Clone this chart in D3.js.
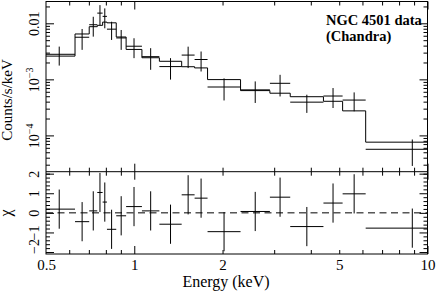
<!DOCTYPE html>
<html>
<head>
<meta charset="utf-8">
<script src="https://cdn.jsdelivr.net/npm/d3@7"></script>
<style>
  body { margin: 0; background: #fff; }
  svg { display: block; font-family: 'Liberation Serif', 'Times New Roman', serif; }
</style>
</head>
<body>
<div id="chart"></div>
<script>
// spectrum bins, keV (first and last are clipped by the plot window)
var binEdges = [0.49, 0.628, 0.702, 0.748, 0.780, 0.807, 0.868, 0.938, 1.062, 1.218,
                1.451, 1.606, 1.778, 2.304, 2.901, 3.403, 4.417, 5.135, 6.154, 12.8]
// data, counts/s/keV
var counts    = [2.80e-3, 5.64e-3, 9.43e-3, 1.52e-2, 1.33e-2, 7.86e-3, 5.48e-3, 3.90e-3, 2.54e-3, 1.69e-3,
                 2.71e-3, 2.26e-3, 7.30e-4, 6.49e-4, 8.50e-4, 3.92e-4, 5.04e-4, 4.27e-4, 5.65e-5]
var countsErr = [1.04e-3, 2.28e-3, 3.65e-3, 5.90e-3, 5.15e-3, 2.81e-3, 2.12e-3, 1.51e-3, 1.06e-3, 7.00e-4,
                 1.12e-3, 8.80e-4, 3.10e-4, 2.70e-4, 3.55e-4, 1.40e-4, 1.96e-4, 1.58e-4, 2.80e-5]
// folded model
var model     = [2.60e-3, 6.45e-3, 8.70e-3, 9.20e-3, 1.05e-2, 1.02e-2, 5.70e-3, 3.42e-3, 2.43e-3, 2.10e-3,
                 1.68e-3, 1.60e-3, 9.90e-4, 6.30e-4, 5.66e-4, 4.90e-4, 4.06e-4, 2.74e-4, 7.57e-5]
// residuals, sigma
var chi       = [0.19, -0.45, 0.10, 1.04, 0.55, -0.84, -0.15, 0.32, 0.10, -0.58,
                 0.92, 0.75, -0.96, 0.07, 0.80, -0.70, 0.50, 0.97, -0.78]

var xLabels = [0.5, 1, 2, 5, 10]
var xMajor = [1, 10]
var xMinor = [0.6, 0.7, 0.8, 0.9, 2, 3, 4, 5, 6, 7, 8, 9]
var yLabels = [1e-4, 1e-3, 1e-2]
var yMinor = [3e-5, 4e-5, 5e-5, 6e-5, 7e-5, 8e-5, 9e-5,
              2e-4, 3e-4, 4e-4, 5e-4, 6e-4, 7e-4, 8e-4, 9e-4,
              2e-3, 3e-3, 4e-3, 5e-3, 6e-3, 7e-3, 8e-3, 9e-3, 2e-2]
var chiMajor = [-2, -1, 0, 1, 2]
var chiMinor = [-1.8, -1.6, -1.4, -1.2, -0.8, -0.6, -0.4, -0.2, 0.2, 0.4, 0.6, 0.8,
                1.2, 1.4, 1.6, 1.8, 2.0]
var title = ['NGC 4501 data', '(Chandra)']

var width = 436, height = 291
var padL = 46, padR = 427.5, yTop = 1.5, yMid = 171.7, yBot = 254

var x = d3.scaleLog().domain([0.5, 10]).range([padL, padR])
var y = d3.scaleLog().domain([2.25e-5, 0.0245]).range([yMid, yTop])
var yr = d3.scaleLinear().domain([-2.1, 2.1]).range([yBot, yMid])

var bins = counts.map(function(c, i) {
  return {lo: binEdges[i], hi: binEdges[i + 1], c: c, e: countsErr[i], m: model[i], r: chi[i]}
})

var svg = d3.select('#chart').append('svg')
            .attr('width', width)
            .attr('height', height)

var defs = svg.append('defs')
defs.append('clipPath').attr('id', 'clipTop')
    .append('rect').attr('x', padL).attr('y', yTop).attr('width', padR - padL).attr('height', yMid - yTop)
defs.append('clipPath').attr('id', 'clipRes')
    .append('rect').attr('x', padL).attr('y', yMid).attr('width', padR - padL).attr('height', yBot - yMid)

function centre(d) { return x(Math.sqrt(d.lo * d.hi)) }

// ---- top panel
var gTop = svg.append('g').attr('clip-path', 'url(#clipTop)')
         .attr('stroke', '#000').attr('fill', 'none').attr('stroke-width', 1)

var stepPts = bins.map(function(d) { return [d.lo, d.m] })
stepPts.push([bins[bins.length - 1].hi, bins[bins.length - 1].m])
var step = d3.line()
             .x(function(d) { return x(d[0]) })
             .y(function(d) { return y(d[1]) })
             .curve(d3.curveStepAfter)
gTop.append('path').attr('d', step(stepPts))

gTop.selectAll('line.h').data(bins).enter().append('line')
    .attr('x1', function(d) { return x(d.lo) })
    .attr('x2', function(d) { return x(d.hi) })
    .attr('y1', function(d) { return y(d.c) })
    .attr('y2', function(d) { return y(d.c) })
gTop.selectAll('line.v').data(bins).enter().append('line')
    .attr('x1', centre).attr('x2', centre)
    .attr('y1', function(d) { return y(d.c + d.e) })
    .attr('y2', function(d) { return y(d.c - d.e) })

// ---- residual panel
var gRes = svg.append('g').attr('clip-path', 'url(#clipRes)')
         .attr('stroke', '#000').attr('fill', 'none').attr('stroke-width', 1)

gRes.append('line')
    .attr('x1', padL).attr('x2', padR)
    .attr('y1', yr(0)).attr('y2', yr(0))
    .attr('stroke-dasharray', '7,4.5')

gRes.selectAll('line.h').data(bins).enter().append('line')
    .attr('x1', function(d) { return x(d.lo) })
    .attr('x2', function(d) { return x(d.hi) })
    .attr('y1', function(d) { return yr(d.r) })
    .attr('y2', function(d) { return yr(d.r) })
gRes.selectAll('line.v').data(bins).enter().append('line')
    .attr('x1', centre).attr('x2', centre)
    .attr('y1', function(d) { return yr(d.r + 1) })
    .attr('y2', function(d) { return yr(d.r - 1) })

// ---- frame
svg.append('rect')
   .attr('x', padL).attr('y', yTop)
   .attr('width', padR - padL).attr('height', yBot - yTop)
   .attr('fill', 'none').attr('stroke', '#000')
svg.append('line')
   .attr('x1', padL).attr('x2', padR).attr('y1', yMid).attr('y2', yMid)
   .attr('stroke', '#000')

// ---- inward ticks
function ticks(axisFn, scale, values, size, tx, ty) {
  svg.append('g')
     .attr('transform', 'translate(' + tx + ',' + ty + ')')
     .call(axisFn(scale).tickValues(values).tickSize(-size).tickFormat(''))
     .call(function(g) { g.select('.domain').remove() })
}
ticks(d3.axisTop, x, xMajor, 8, 0, yTop)
ticks(d3.axisTop, x, xMinor, 4, 0, yTop)
ticks(d3.axisBottom, x, xMajor, 8, 0, yMid)
ticks(d3.axisBottom, x, xMinor, 4, 0, yMid)
ticks(d3.axisTop, x, xMajor, 8, 0, yMid)
ticks(d3.axisTop, x, xMinor, 4, 0, yMid)
ticks(d3.axisBottom, x, xMajor, 8, 0, yBot)
ticks(d3.axisBottom, x, xMinor, 4, 0, yBot)

ticks(d3.axisLeft, y, yLabels, 8, padL, 0)
ticks(d3.axisLeft, y, yMinor, 4, padL, 0)
ticks(d3.axisRight, y, yLabels, 8, padR, 0)
ticks(d3.axisRight, y, yMinor, 4, padR, 0)
ticks(d3.axisLeft, yr, chiMajor, 8, padL, 0)
ticks(d3.axisLeft, yr, chiMinor, 4, padL, 0)
ticks(d3.axisRight, yr, chiMajor, 8, padR, 0)
ticks(d3.axisRight, yr, chiMinor, 4, padR, 0)

// ---- tick labels
var xAx = svg.append('g')
   .attr('transform', 'translate(0,' + yBot + ')')
   .call(d3.axisBottom(x).tickValues(xLabels).tickSize(0).tickFormat(d3.format('')))
xAx.select('.domain').remove()
xAx.attr('font-family', null).attr('font-size', 15)
xAx.selectAll('text').attr('y', 16).attr('dy', null).attr('fill', '#000')

var yAx = svg.append('g')
   .attr('transform', 'translate(' + padL + ',0)')
   .call(d3.axisLeft(y).tickValues(yLabels).tickSize(0))
yAx.select('.domain').remove()
yAx.attr('font-family', null).attr('font-size', 14)
yAx.selectAll('text')
   .attr('transform', 'rotate(-90)')
   .attr('text-anchor', 'middle')
   .attr('x', 0).attr('y', -7.5).attr('dy', null)
   .attr('fill', '#000')
   .each(function(d) {
     var t = d3.select(this).text('')
     if (d >= 0.01) { t.text('0.01'); return }
     t.append('tspan').text('10')
     t.append('tspan').attr('font-size', 10).attr('dy', -6).text('\u2212' + Math.round(-Math.log10(d)))
   })

var rAx = svg.append('g')
   .attr('transform', 'translate(' + padL + ',0)')
   .call(d3.axisLeft(yr).tickValues(chiMajor).tickSize(0)
           .tickFormat(function(d) { return d < 0 ? '\u2212' + (-d) : d }))
rAx.select('.domain').remove()
rAx.attr('font-family', null).attr('font-size', 14)
rAx.selectAll('text')
   .attr('transform', 'rotate(-90)')
   .attr('text-anchor', 'middle')
   .attr('x', function(d) { return d === -2 ? 6 : 0 })
   .attr('y', -7.5).attr('dy', null)
   .attr('fill', '#000')

// ---- titles
svg.append('text')
   .attr('x', 226).attr('y', 286.5)
   .attr('text-anchor', 'middle').attr('font-size', 16)
   .text('Energy (keV)')
svg.append('text')
   .attr('transform', 'translate(12,100) rotate(-90)')
   .attr('text-anchor', 'middle').attr('font-size', 15)
   .text('Counts/s/keV')
svg.append('text')
   .attr('transform', 'translate(11,' + yr(0) + ') rotate(-90)')
   .attr('text-anchor', 'middle').attr('font-size', 16)
   .text('\u03c7')

svg.selectAll('text.note').data(title).enter().append('text')
   .attr('x', 326)
   .attr('y', function(d, i) { return 25 + i * 15.5 })
   .attr('font-size', 14.5).attr('font-weight', 'bold')
   .text(function(d) { return d })
</script>
</body>
</html>
